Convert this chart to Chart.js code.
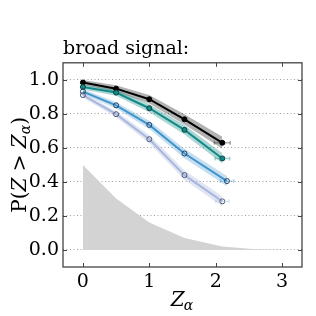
<!DOCTYPE html>
<html><head><meta charset="utf-8">
<script src="https://cdn.jsdelivr.net/npm/chart.js@4/dist/chart.umd.min.js"></script>
<style>html,body{margin:0;padding:0;background:#fff}#c{display:block}</style>
</head><body>
<canvas id="c" width="316" height="316"></canvas>
<script>
const titleText = "broad signal:";
const xTicks = [0, 1, 2, 3];
const yTicks = [0.0, 0.2, 0.4, 0.6, 0.8, 1.0];

const xBlack = [0, 0.5, 1.0, 1.53, 2.1];
const yBlack = [0.984, 0.948, 0.886, 0.768, 0.630];
const eBlack = [0.015, 0.02, 0.025, 0.03, 0.035];
const xeBlack = 0.12;

const xTeal = [0, 0.5, 1.0, 1.53, 2.1];
const yTeal = [0.958, 0.925, 0.833, 0.706, 0.538];
const eTeal = [0.015, 0.018, 0.024, 0.028, 0.03];
const xeTeal = 0.11;

const xBlue = [0, 0.5, 1.0, 1.53, 2.17];
const yBlue = [0.931, 0.850, 0.735, 0.567, 0.405];
const eBlue = [0.015, 0.018, 0.024, 0.028, 0.03];
const xeBlue = 0.1;

const xLav = [0, 0.5, 1.0, 1.53, 2.1];
const yLav = [0.910, 0.798, 0.651, 0.440, 0.286];
const eLav = [0.015, 0.018, 0.024, 0.028, 0.03];
const xeLav = 0.1;

const xDist = [0, 0.5, 1.0, 1.53, 2.1, 2.6, 3.3];
const yDist = [0.5, 0.303, 0.162, 0.07, 0.02, 0.005, 0.0];

const SERIF = "'DejaVu Serif', serif";

function pts(xs, ys) { return xs.map((x, i) => ({x: x, y: ys[i]})); }
function shift(xs, ys, es, s) { return xs.map((x, i) => ({x: x, y: ys[i] + s * es[i]})); }

const series = [
  {xs: xBlack, ys: yBlack, es: eBlack, xe: xeBlack, line: '#000000', band: 'rgba(0,0,0,0.3)', mfill: '#000000', medge: '#000000'},
  {xs: xTeal, ys: yTeal, es: eTeal, xe: xeTeal, line: '#138a88', band: 'rgba(19,138,136,0.35)', mfill: '#138a88', medge: '#0a3f3e'},
  {xs: xBlue, ys: yBlue, es: eBlue, xe: xeBlue, line: '#3f95cc', band: 'rgba(63,149,204,0.3)', mfill: 'rgba(0,0,0,0)', medge: '#1d3b5e'},
  {xs: xLav, ys: yLav, es: eLav, xe: xeLav, line: '#a9b6dd', band: 'rgba(169,182,221,0.35)', mfill: 'rgba(0,0,0,0)', medge: '#4b5670'}
];

const datasets = [{
  data: pts(xDist, yDist), borderWidth: 0, pointRadius: 0, fill: 'origin',
  backgroundColor: '#d3d3d3', borderColor: 'rgba(0,0,0,0)', tension: 0, order: 20
}];
series.forEach((s, k) => {
  datasets.push({data: shift(s.xs, s.ys, s.es, -1), borderWidth: 0, pointRadius: 0, fill: false, borderColor: 'rgba(0,0,0,0)', order: 10 - k});
  datasets.push({data: shift(s.xs, s.ys, s.es, 1), borderWidth: 0, pointRadius: 0, fill: '-1', backgroundColor: s.band, borderColor: 'rgba(0,0,0,0)', order: 10 - k});
  datasets.push({data: pts(s.xs, s.ys), borderColor: s.line, borderWidth: 2, pointRadius: 2.5,
    pointBackgroundColor: s.mfill, pointBorderColor: s.medge, pointBorderWidth: 1, fill: false, order: 5 - k});
});

const decor = {
  id: 'decor',
  afterDatasetsDraw(chart) {
    const ctx = chart.ctx, a = chart.chartArea, xs = chart.scales.x, ys = chart.scales.y;
    ctx.save();
    // horizontal error bars at last points
    series.forEach(s => {
      const n = s.xs.length - 1;
      const y = ys.getPixelForValue(s.ys[n]);
      const x0 = xs.getPixelForValue(s.xs[n] - s.xe), x1 = xs.getPixelForValue(s.xs[n] + s.xe);
      ctx.strokeStyle = s.band; ctx.lineWidth = 1.5;
      ctx.beginPath(); ctx.moveTo(x0, y); ctx.lineTo(x1, y); ctx.stroke();
      ctx.beginPath(); ctx.moveTo(x0, y - 2); ctx.lineTo(x0, y + 2); ctx.moveTo(x1, y - 2); ctx.lineTo(x1, y + 2); ctx.stroke();
    });
    // frame
    ctx.strokeStyle = '#444'; ctx.lineWidth = 1.3;
    ctx.strokeRect(a.left, a.top, a.right - a.left, a.bottom - a.top);
    // inward ticks
    ctx.lineWidth = 1; ctx.strokeStyle = '#444';
    ctx.beginPath();
    xTicks.forEach(v => {
      const x = Math.round(xs.getPixelForValue(v)) + 0.5;
      ctx.moveTo(x, a.bottom); ctx.lineTo(x, a.bottom - 4);
      ctx.moveTo(x, a.top); ctx.lineTo(x, a.top + 4);
    });
    yTicks.forEach(v => {
      const y = Math.round(ys.getPixelForValue(v)) + 0.5;
      ctx.moveTo(a.left, y); ctx.lineTo(a.left + 4, y);
      ctx.moveTo(a.right, y); ctx.lineTo(a.right - 4, y);
    });
    ctx.stroke();
    // axis titles
    ctx.fillStyle = '#000'; ctx.textBaseline = 'alphabetic';
    const cx = (a.left + a.right) / 2;
    ctx.font = "italic 20px " + SERIF;
    const wZ = ctx.measureText('Z').width;
    ctx.font = "italic 14px " + SERIF;
    const wa = ctx.measureText('α').width;
    let sx = cx - (wZ + wa) / 2;
    ctx.textAlign = 'left';
    ctx.font = "italic 20px " + SERIF; ctx.fillText('Z', sx, 306);
    ctx.font = "italic 14px " + SERIF; ctx.fillText('α', sx + wZ - 1, 310);
    // y title rotated
    ctx.translate(26, (a.top + a.bottom) / 2);
    ctx.rotate(-Math.PI / 2);
    const parts = [
      {t: 'P(', f: "20px " + SERIF, dy: 0},
      {t: 'Z', f: "italic 20px " + SERIF, dy: 0},
      {t: ' > ', f: "20px " + SERIF, dy: 0},
      {t: 'Z', f: "italic 20px " + SERIF, dy: 0},
      {t: 'α', f: "italic 14px " + SERIF, dy: 4},
      {t: ')', f: "20px " + SERIF, dy: 0}
    ];
    let tw = 0;
    parts.forEach(p => { ctx.font = p.f; p.w = ctx.measureText(p.t).width; tw += p.w; });
    let px = -tw / 2;
    parts.forEach(p => { ctx.font = p.f; ctx.fillText(p.t, px, p.dy); px += p.w; });
    ctx.restore();
  }
};

new Chart(document.getElementById('c'), {
  type: 'line',
  data: {datasets: datasets},
  plugins: [decor],
  options: {
    responsive: false, animation: false, devicePixelRatio: 1,
    layout: {padding: {left: 0, right: 14, top: 0, bottom: 0}},
    plugins: {
      legend: {display: false}, tooltip: {enabled: false},
      title: {display: true, text: titleText, align: 'start', fullSize: false,
        font: {family: SERIF, size: 19, weight: 'normal'}, color: '#000', padding: {top: 38, bottom: 2}}
    },
    elements: {line: {tension: 0}},
    scales: {
      x: {type: 'linear', min: -0.3, max: 3.3,
        afterBuildTicks: s => { s.ticks = xTicks.map(v => ({value: v})); },
        afterFit: s => { s.height = 49; },
        grid: {display: false, drawTicks: false}, border: {display: false},
        ticks: {padding: 4, color: '#000', font: {family: SERIF, size: 19}, maxRotation: 0,
          callback: v => String(v)}
      },
      y: {type: 'linear', min: -0.1, max: 1.1,
        afterBuildTicks: s => { s.ticks = yTicks.map(v => ({value: v})); },
        afterFit: s => { s.width = 63; },
        grid: {display: true, drawTicks: false, color: '#888', lineWidth: 0.8},
        border: {display: false, dash: [1, 2.5]},
        ticks: {padding: 4, color: '#000', font: {family: SERIF, size: 19},
          callback: v => Number(v).toFixed(1)}
      }
    }
  }
});
</script>
</body></html>
